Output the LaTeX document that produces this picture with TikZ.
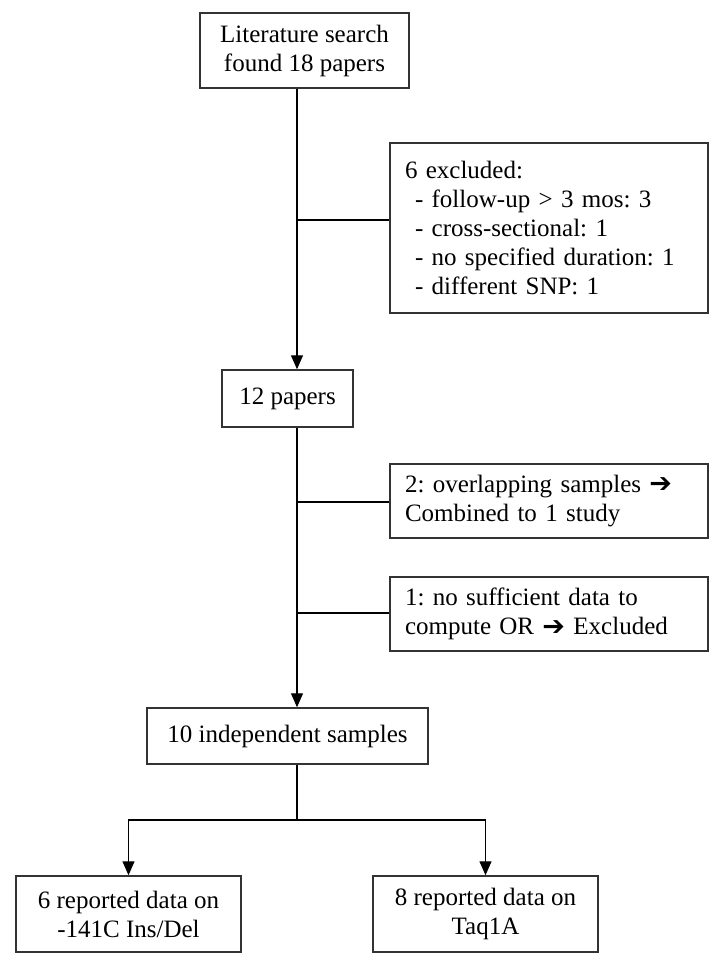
\documentclass[tikz,border=0pt]{standalone}
\usepackage{fontspec}
\setmainfont{Liberation Serif}
\newfontfamily\dvsans{DejaVu Sans}
\usetikzlibrary{arrows.meta}
\newcommand{\harrow}{{\dvsans\fontsize{27}{28}\selectfont\raisebox{-0.5pt}{➔}}}
\frenchspacing
\begin{document}
\begin{tikzpicture}[x=1pt,y=-1pt,
  box/.style={draw=black!80, line width=1.5pt, inner sep=0pt, align=center,
              font=\fontsize{25}{29}\selectfont},
  sidebox/.style={box, align=left, inner xsep=15pt, text width=288pt, minimum height=#1},
  conn/.style={line width=1.3pt, draw=black},
  arr/.style={conn, -{Triangle[width=12pt,length=14pt]}}]
\useasboundingbox (0,0) rectangle (722,964);

\node[box, minimum width=209pt, minimum height=75pt] (lit) at (304.5,50.5)
  {Literature search\\found 18 papers};
\node[sidebox=170pt] (excl) at (549,228)
  {6 excluded:\\
   \hspace*{10pt}- follow-up > 3 mos: 3\\
   \hspace*{10pt}- cross-sectional: 1\\
   \hspace*{10pt}- no specified duration: 1\\
   \hspace*{10pt}- different SNP: 1};
\node[box, minimum width=131pt, minimum height=57pt] (p12) at (287.5,398.5) {12 papers};
\node[sidebox=74pt] (over) at (549,501)
  {2: overlapping samples \harrow\\Combined to 1 study};
\node[sidebox=74pt] (suff) at (549,614)
  {1: no sufficient data to\\compute OR \harrow\ Excluded};
\node[box, minimum width=281pt, minimum height=56pt] (ind) at (287.5,736) {10 independent samples};
\node[box, minimum width=225pt, minimum height=76pt] (left) at (128.5,914)
  {6 reported data on\\-141C Ins/Del};
\node[box, minimum width=225pt, minimum height=76pt] (right) at (485.5,914)
  {8 reported data on\\Taq1A};

\coordinate (spine) at (297,0);
\coordinate (b1) at (297,220);
\coordinate (b2) at (297,502);
\coordinate (b3) at (297,613);
\coordinate (split) at (297,820);

\draw[arr] (lit.south -| spine) -- (p12.north -| spine);
\draw[conn] (b1) -- (b1 -| excl.west);
\draw[arr] (p12.south -| spine) -- (ind.north -| spine);
\draw[conn] (b2) -- (b2 -| over.west);
\draw[conn] (b3) -- (b3 -| suff.west);
\draw[conn] (ind.south -| spine) -- (split);
\draw[arr] (split) -| (left.north);
\draw[arr] (split) -| (right.north);
\end{tikzpicture}
\end{document}
